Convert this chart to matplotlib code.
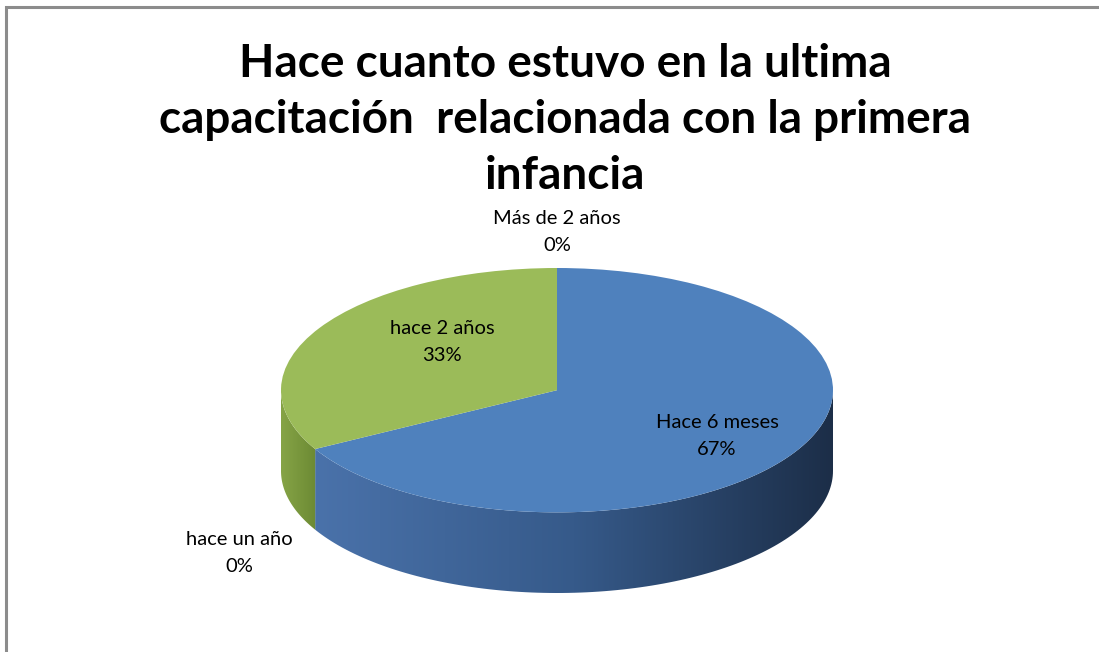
import numpy as np
import matplotlib.pyplot as plt
from matplotlib.patches import Polygon, Rectangle
from matplotlib.colors import LinearSegmentedColormap

# datos de la encuesta
labels = ['Hace 6 meses', 'hace un año', 'hace 2 años', 'Más de 2 años']
values = [67, 0, 33, 0]
colors = ['#4f81bd', '#c0504d', '#9bbb59', '#8064a2']
side_cmaps = [['#4a72aa', '#365a8a', '#1c2e48'], ['#9b3f3c', '#7a302e'],
              ['#86a446', '#6c8a34'], ['#6a5388', '#4f3d66']]

title = 'Hace cuanto estuvo en la ultima\ncapacitación  relacionada con la primera\ninfancia'

plt.rcParams['font.family'] = ['Lato', 'DejaVu Sans']

fig = plt.figure(figsize=(10.99, 6.52), dpi=100)

# marco gris del grafico
fig.patches.append(Rectangle((6 / 1099, -0.1), 1.2, 0.1 + (652 - 7) / 652,
                             transform=fig.transFigure, fill=False,
                             edgecolor='#8c8c8c', linewidth=2.2))

fig.text(565 / 1099, 1 - 120 / 652, title, ha='center', va='center',
         fontsize=33, fontweight='bold', linespacing=1.4)

# ejes del pastel 3D (elipse)
depth = 0.66
ax = fig.add_axes([281 / 1099, (652 - 593) / 652, 552 / 1099, 325 / 652])

# lado frontal del pastel
fracs = np.array(values, dtype=float) / sum(values)
start = 90.0
for frac, cm in zip(fracs, side_cmaps):
    a0 = start - frac * 360
    a1 = start
    start = a0
    lo = max(a0, -180)
    hi = min(a1, 0)
    # normalizar angulos al rango visible (-180, 0)
    if a0 < -180:
        lo2, hi2 = max(a0 + 360, -180), min(a1 + 360, 0)
        if hi2 > lo2:
            lo, hi = lo2, hi2
    if hi <= lo:
        continue
    t = np.radians(np.linspace(lo, hi, 120))
    xs = np.cos(t)
    ys = np.sin(t)
    pts = np.vstack([np.column_stack([xs, ys]),
                     np.column_stack([xs[::-1], ys[::-1] - depth])])
    poly = Polygon(pts, closed=True, facecolor='none', edgecolor='none')
    ax.add_patch(poly)
    grad = np.linspace(0, 1, 256).reshape(1, -1)
    cmap = LinearSegmentedColormap.from_list('lado', cm)
    im = ax.imshow(grad, extent=[xs.min(), xs.max(), -1 - depth, 0.2],
                   cmap=cmap, aspect='auto', zorder=1)
    im.set_clip_path(poly)

# cara superior
wedges, _ = ax.pie(values, colors=colors, startangle=90, counterclock=False,
                   radius=1, wedgeprops=dict(linewidth=0))
for w in wedges:
    w.set_zorder(2)
ax.set_aspect('auto')
ax.set_xlim(-1, 1)
ax.set_ylim(-1 - depth, 1)
ax.axis('off')

# etiquetas de datos
label_pos = [(717, 436), (239, 553), (442, 342), (557, 232)]
for lab, v, (px, py) in zip(labels, values, label_pos):
    fig.text(px / 1099, 1 - py / 652, f'{lab}\n{v}%', ha='center', va='center',
             fontsize=14.5, linespacing=1.75)

fig.savefig('out.png', dpi=100, facecolor='white')
